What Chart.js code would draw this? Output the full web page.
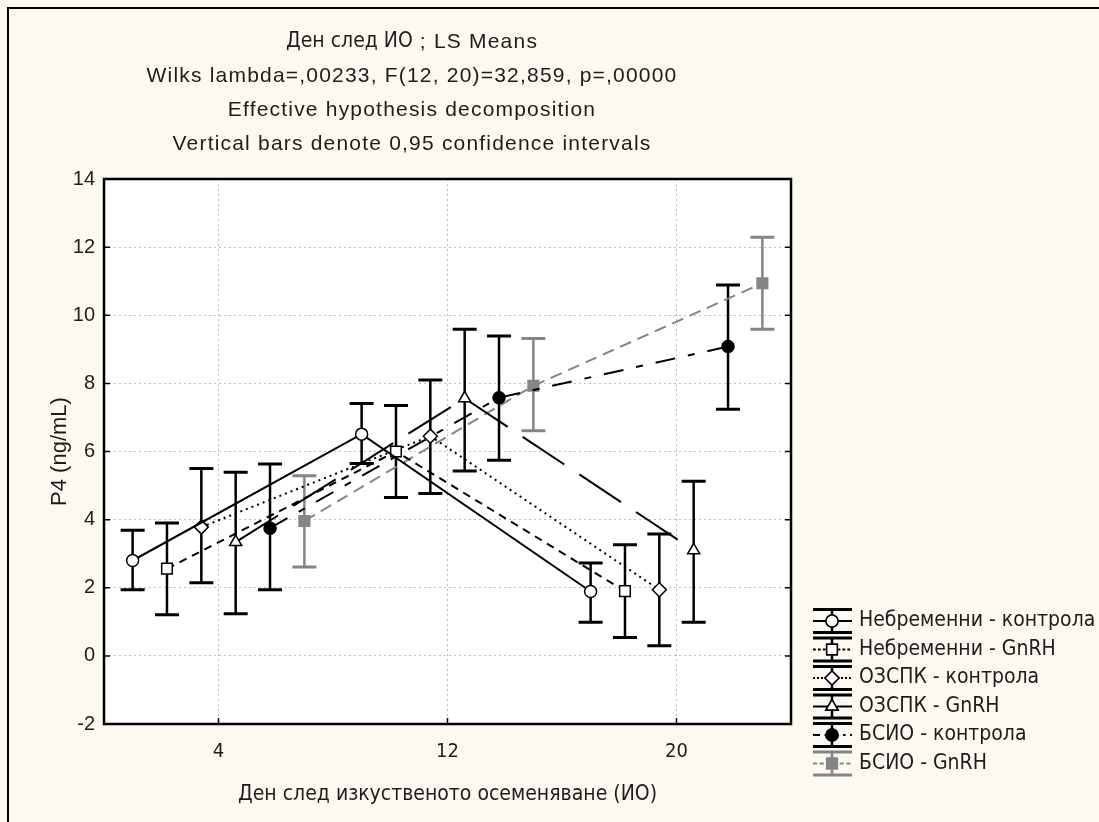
<!DOCTYPE html>
<html><head><meta charset="utf-8">
<script src="https://cdn.jsdelivr.net/npm/chart.js@4.4.1/dist/chart.umd.min.js"></script>
<style>
html,body{margin:0;padding:0;background:#fcf9f0;}
#wrap{position:relative;width:1099px;height:822px;}
canvas{display:block;}
</style></head><body>
<div id="wrap"><canvas id="c" width="1099" height="822"></canvas></div>
<script>
// ---- data ----
const days = [4, 12, 20];
const xTickLabels = ['4', '12', '20'];
const yTickLabels = ['-2', '0', '2', '4', '6', '8', '10', '12', '14'];
const seriesNames = ['Небременни - контрола', 'Небременни - GnRH', 'ОЗСПК - контрола', 'ОЗСПК - GnRH', 'БСИО - контрола', 'БСИО - GnRH'];
const nebrKontrolaMean = [2.80, 6.51, 1.89];
const nebrKontrolaLow  = [1.94, 5.65, 0.99];
const nebrKontrolaHigh = [3.69, 7.41, 2.73];
const nebrGnrhMean = [2.56, 6.00, 1.90];
const nebrGnrhLow  = [1.21, 4.65, 0.54];
const nebrGnrhHigh = [3.90, 7.35, 3.26];
const ozspkKontrolaMean = [3.78, 6.45, 1.94];
const ozspkKontrolaLow  = [2.15, 4.77, 0.30];
const ozspkKontrolaHigh = [5.50, 8.10, 3.58];
const ozspkGnrhMean = [3.34, 7.56, 3.10];
const ozspkGnrhLow  = [1.24, 5.43, 0.99];
const ozspkGnrhHigh = [5.39, 9.59, 5.13];
const bsioKontrolaMean = [3.75, 7.58, 9.08];
const bsioKontrolaLow  = [1.94, 5.74, 7.24];
const bsioKontrolaHigh = [5.63, 9.39, 10.89];
const bsioGnrhMean = [3.96, 7.93, 10.94];
const bsioGnrhLow  = [2.61, 6.61, 9.59];
const bsioGnrhHigh = [5.29, 9.32, 12.29];
const titleHead = ['Ден след ИО', ' ; LS Means'];
const titleLines = ['Wilks lambda=,00233, F(12, 20)=32,859, p=,00000', 'Effective hypothesis decomposition', 'Vertical bars denote 0,95 confidence intervals'];
const xTitle = 'Ден след изкуственото осеменяване (ИО)';
const yTitle = 'P4 (ng/mL)';

const allMeans = [nebrKontrolaMean, nebrGnrhMean, ozspkKontrolaMean, ozspkGnrhMean, bsioKontrolaMean, bsioGnrhMean];
const allLows  = [nebrKontrolaLow, nebrGnrhLow, ozspkKontrolaLow, ozspkGnrhLow, bsioKontrolaLow, bsioGnrhLow];
const allHighs = [nebrKontrolaHigh, nebrGnrhHigh, ozspkKontrolaHigh, ozspkGnrhHigh, bsioKontrolaHigh, bsioGnrhHigh];

// ---- styles ----
const GREY = '#858585';
const INK = '#1c1c1c';
const styles = [
  {color: '#000', dash: [], point: 'circle', fill: '#fff', r: 6},
  {color: '#000', dash: [8, 6], point: 'rect', fill: '#fff', r: 7.5},
  {color: '#000', dash: [2, 4], point: 'rectRot', fill: '#fff', r: 7},
  {color: '#000', dash: [50, 18], point: 'triangle', fill: '#fff', r: 7},
  {color: '#000', dash: [20, 13, 7, 13], point: 'circle', fill: '#000', r: 6},
  {color: GREY, dash: [12, 7], point: 'rect', fill: GREY, r: 7.5}
];
const groupStep = 1.2; // horizontal spread of groups within a day (in day units)
const NARROW = "'Liberation Sans Narrow', 'DejaVu Sans Condensed', 'Open Sans', sans-serif";
const ARIAL = "'Liberation Sans', Arial, sans-serif";

const datasets = seriesNames.map((name, i) => ({
  label: name,
  data: days.map((d, j) => ({x: d + (i - 2.5) * groupStep, y: allMeans[i][j], lo: allLows[i][j], hi: allHighs[i][j]})),
  showLine: true,
  borderColor: styles[i].color,
  borderWidth: 2,
  borderDash: styles[i].dash,
  pointStyle: styles[i].point,
  pointRadius: styles[i].r,
  pointBorderWidth: 1.5,
  pointBorderColor: styles[i].color,
  pointBackgroundColor: styles[i].fill,
  tension: 0
}));

const framePlugin = {
  id: 'frame',
  beforeDraw(chart) {
    const {ctx, chartArea: a} = chart;
    ctx.save();
    ctx.fillStyle = '#fcf9f0';
    ctx.fillRect(0, 0, chart.width, chart.height);
    ctx.fillStyle = '#ffffff';
    ctx.fillRect(a.left, a.top, a.right - a.left, a.bottom - a.top);
    ctx.strokeStyle = '#000';
    ctx.lineWidth = 2;
    ctx.beginPath();
    ctx.moveTo(8, chart.height);
    ctx.lineTo(8, 8);
    ctx.lineTo(chart.width, 8);
    ctx.stroke();
    ctx.restore();
  },
  beforeDatasetsDraw(chart) {
    const {ctx} = chart;
    const xs = chart.scales.x, ys = chart.scales.y;
    ctx.save();
    chart.data.datasets.forEach((ds, i) => {
      const st = styles[i];
      ctx.strokeStyle = st.color;
      ds.data.forEach(p => {
        const x = xs.getPixelForValue(p.x);
        const y1 = ys.getPixelForValue(p.lo), y2 = ys.getPixelForValue(p.hi);
        ctx.lineWidth = 2.5;
        ctx.beginPath(); ctx.moveTo(x, y1); ctx.lineTo(x, y2); ctx.stroke();
        ctx.lineWidth = 3;
        ctx.beginPath();
        ctx.moveTo(x - 12, y1); ctx.lineTo(x + 12, y1);
        ctx.moveTo(x - 12, y2); ctx.lineTo(x + 12, y2);
        ctx.stroke();
      });
    });
    ctx.restore();
  },
  afterDraw(chart) {
    const {ctx, chartArea: a} = chart;
    const xs = chart.scales.x, ys = chart.scales.y;
    ctx.save();
    // plot frame
    ctx.strokeStyle = '#000';
    ctx.lineWidth = 2.5;
    ctx.strokeRect(a.left, a.top, a.right - a.left, a.bottom - a.top);
    // inward ticks
    ctx.lineWidth = 1.5;
    ctx.beginPath();
    ys.ticks.forEach(t => {
      const y = ys.getPixelForValue(t.value);
      ctx.moveTo(a.left, y); ctx.lineTo(a.left + 6, y);
      ctx.moveTo(a.right, y); ctx.lineTo(a.right - 6, y);
    });
    xs.ticks.forEach(t => {
      const x = xs.getPixelForValue(t.value);
      ctx.moveTo(x, a.bottom); ctx.lineTo(x, a.bottom - 6);
    });
    ctx.stroke();
    // title
    const cx = 412;
    ctx.fillStyle = INK;
    ctx.textBaseline = 'middle';
    ctx.textAlign = 'left';
    ctx.letterSpacing = '0px';
    ctx.font = '21px ' + NARROW;
    const w0 = ctx.measureText(titleHead[0]).width;
    ctx.letterSpacing = '1.2px';
    ctx.font = '21px ' + ARIAL;
    const w1 = ctx.measureText(titleHead[1]).width;
    const sx = cx - (w0 + w1) / 2;
    ctx.letterSpacing = '0px';
    ctx.font = '21px ' + NARROW;
    ctx.fillText(titleHead[0], sx, 42);
    ctx.letterSpacing = '1.2px';
    ctx.font = '21px ' + ARIAL;
    ctx.fillText(titleHead[1], sx + w0, 42);
    ctx.textAlign = 'center';
    titleLines.forEach((t, k) => ctx.fillText(t, cx, 76 + k * 34));
    ctx.letterSpacing = '0px';
    // legend
    const lx0 = 813, lx1 = 852, lxc = 832;
    chart.data.datasets.forEach((ds, i) => {
      const st = styles[i];
      const y = 621 + i * 28.5;
      ctx.strokeStyle = st.color;
      ctx.lineWidth = 2;
      ctx.setLineDash(st.dash.map(v => Math.max(2, v * 0.35)));
      ctx.beginPath(); ctx.moveTo(lx0, y); ctx.lineTo(lx1, y); ctx.stroke();
      ctx.setLineDash([]);
      ctx.lineWidth = 2.5;
      ctx.beginPath(); ctx.moveTo(lxc, y - 11.5); ctx.lineTo(lxc, y + 11.5); ctx.stroke();
      ctx.lineWidth = 3;
      ctx.beginPath();
      ctx.moveTo(lx0, y - 11.5); ctx.lineTo(lx1, y - 11.5);
      ctx.moveTo(lx0, y + 11.5); ctx.lineTo(lx1, y + 11.5);
      ctx.stroke();
      ctx.lineWidth = 1.5;
      ctx.fillStyle = st.fill;
      Chart.helpers.drawPoint(ctx, {pointStyle: st.point, radius: st.r, borderWidth: 1.5}, lxc, y);
      ctx.fill(); ctx.stroke();
      ctx.fillStyle = INK;
      ctx.font = '21px ' + NARROW;
      ctx.textAlign = 'left';
      ctx.textBaseline = 'middle';
      ctx.fillText(ds.label, 859, y);
    });
    ctx.restore();
  }
};

new Chart(document.getElementById('c'), {
  type: 'scatter',
  data: {datasets},
  options: {
    responsive: false,
    animation: false,
    layout: {padding: {top: 179, right: 308, left: 0, bottom: 0}},
    plugins: {legend: {display: false}, title: {display: false}, tooltip: {enabled: false}},
    scales: {
      x: {
        type: 'linear', min: 0, max: 24,
        afterBuildTicks: s => { s.ticks = days.map(v => ({value: v})); },
        afterFit: s => { s.height = 98; },
        ticks: {callback: (v, i) => xTickLabels[i], color: INK, font: {family: NARROW, size: 20}, padding: 16, maxRotation: 0},
        grid: {color: '#bdbdbd', lineWidth: 1, drawTicks: false},
        border: {display: false, dash: [2, 3]},
        title: {display: true, text: xTitle, color: INK, font: {family: NARROW, size: 21}, padding: {top: 0, bottom: 15}}
      },
      y: {
        type: 'linear', min: -2, max: 14,
        ticks: {stepSize: 2, callback: (v, i) => yTickLabels[i], color: INK, font: {family: ARIAL, size: 20}, padding: 9},
        afterFit: s => { s.width = 104; },
        grid: {color: '#bdbdbd', lineWidth: 1, drawTicks: false},
        border: {display: false, dash: [2, 3]},
        title: {display: true, text: yTitle, color: INK, font: {family: ARIAL, size: 22}, padding: {top: 47, bottom: 0}}
      }
    }
  },
  plugins: [framePlugin]
});
</script>
</body></html>
